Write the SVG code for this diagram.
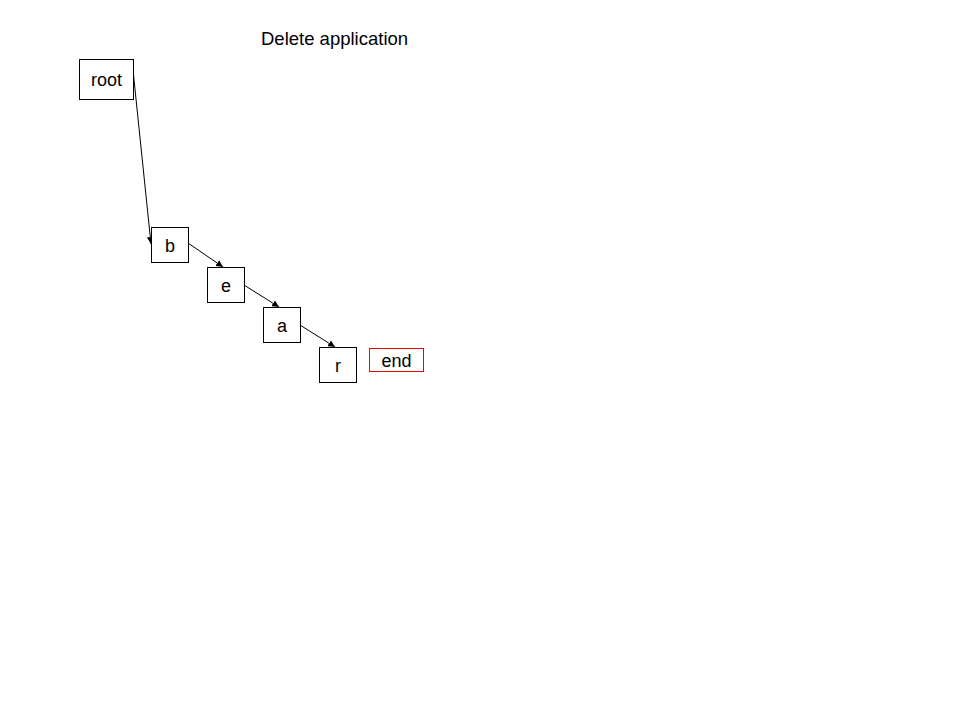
<svg xmlns="http://www.w3.org/2000/svg" width="960" height="720" viewBox="0 0 960 720">
<style>
.box{fill:#fff;stroke:#000;stroke-width:1}
.red{fill:#fff;stroke:#e00;stroke-width:1}
text{font-family:"Liberation Sans",Arial,sans-serif;font-size:18px;fill:#000}
.c{text-anchor:middle}
.title{font-size:18.5px}
.edge{stroke:#000;stroke-width:1;fill:none;marker-end:url(#arr)}
</style>
<defs>
<marker id="arr" viewBox="0 0 10 10" refX="10" refY="5" markerWidth="7" markerHeight="7" markerUnits="userSpaceOnUse" orient="auto">
<path d="M0,0 L10,5 L0,10 z" fill="#000"/>
</marker>
</defs>
<text class="title" x="261" y="45">Delete application</text>
<g id="connectors">
<line class="edge" x1="133" y1="70" x2="151" y2="244"/>
<line class="edge" x1="188" y1="243" x2="223" y2="267"/>
<line class="edge" x1="244" y1="285" x2="279" y2="307"/>
<line class="edge" x1="300" y1="325" x2="335" y2="347"/>
</g>
<g id="root"><rect class="box" x="79.5" y="59.5" width="54" height="40"/><text class="c" x="106.5" y="86">root</text></g>
<g id="b"><rect class="box" x="151.5" y="227.5" width="37" height="35"/><text class="c" x="170" y="252">b</text></g>
<g id="e"><rect class="box" x="207.5" y="267.5" width="37" height="35"/><text class="c" x="226" y="292">e</text></g>
<g id="a"><rect class="box" x="263.5" y="307.5" width="37" height="35"/><text class="c" x="282" y="332">a</text></g>
<g id="r"><rect class="box" x="319.5" y="347.5" width="37" height="35"/><text class="c" x="338" y="372">r</text></g>
<g id="end"><rect class="red" x="369.5" y="348.5" width="54" height="23"/><text class="c" x="396.5" y="367">end</text></g>
</svg>
